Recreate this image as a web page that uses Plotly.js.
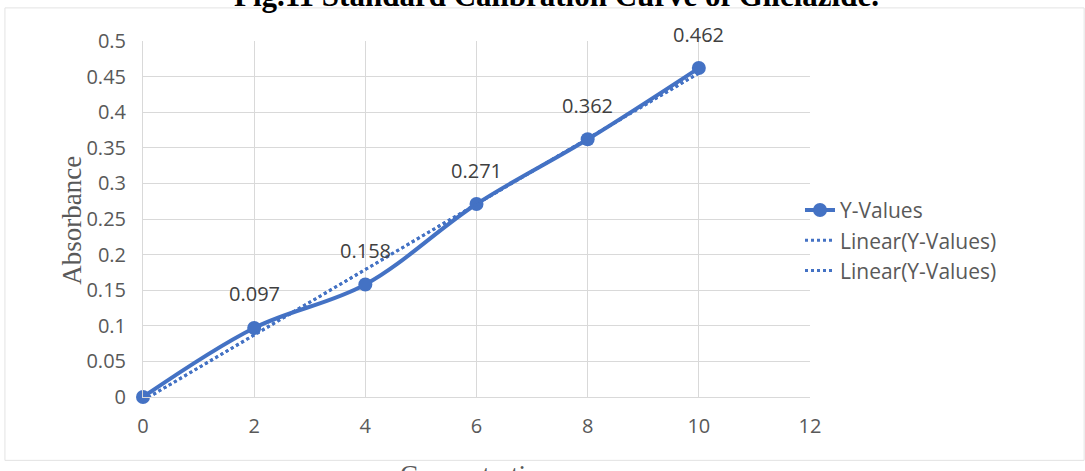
<!DOCTYPE html>
<html>
<head>
<meta charset="utf-8">
<script src="https://cdn.plot.ly/plotly-3.0.1.min.js"></script>
<style>
  html, body { margin: 0; padding: 0; background: #ffffff; }
  #chart { width: 1085px; height: 471px; }
</style>
</head>
<body>
<div id="chart"></div>
<script>
// Concentration (x) against absorbance (y) for the calibration standards
const concentration = [0, 2, 4, 6, 8, 10];
const absorbance = [0, 0.097, 0.158, 0.271, 0.362, 0.462];

const xTicks = [0, 2, 4, 6, 8, 10, 12];
const yTicks = [0, 0.05, 0.1, 0.15, 0.2, 0.25, 0.3, 0.35, 0.4, 0.45, 0.5];
const yTickText = ['0', '0.05', '0.1', '0.15', '0.2', '0.25', '0.3', '0.35', '0.4', '0.45', '0.5'];

const seriesName = 'Y-Values';
const trendName = 'Linear(Y-Values)';
const chartTitle = 'Fig.11 Standard Calibration Curve of Gliclazide.';
const xTitle = 'Concentration';
const yTitle = 'Absorbance';

// least-squares line through the standards
function linearFit(xs, ys) {
  const n = xs.length;
  const mx = xs.reduce((a, b) => a + b, 0) / n;
  const my = ys.reduce((a, b) => a + b, 0) / n;
  let sxy = 0, sxx = 0;
  for (let i = 0; i < n; i++) {
    sxy += (xs[i] - mx) * (ys[i] - my);
    sxx += (xs[i] - mx) * (xs[i] - mx);
  }
  const slope = sxy / sxx;
  return { slope: slope, intercept: my - slope * mx };
}
const fit = linearFit(concentration, absorbance);
const fitX = [Math.min(...concentration), Math.max(...concentration)];
const fitY = fitX.map(x => fit.intercept + fit.slope * x);

const blue = '#4472C4';
const grey = '#595959';
const grid = '#d9d9d9';
const sans = 'Open Sans, sans-serif';
const serif = 'Liberation Serif, Times New Roman, serif';

const traces = [
  {
    x: concentration, y: absorbance, name: seriesName,
    type: 'scatter', mode: 'lines+markers',
    line: { color: blue, width: 4, shape: 'spline', smoothing: 1 },
    marker: { color: blue, size: 14 },
    legendgroup: 'a', cliponaxis: false
  },
  {
    x: fitX, y: fitY, name: trendName,
    type: 'scatter', mode: 'lines',
    line: { color: blue, width: 3, dash: 'dot' },
    legendgroup: 'b', cliponaxis: false
  },
  {
    x: fitX, y: fitY, name: trendName,
    type: 'scatter', mode: 'lines',
    line: { color: blue, width: 3, dash: 'dot' },
    legendgroup: 'c', cliponaxis: false
  }
];

// value labels above every non-zero point
const annotations = [];
concentration.forEach((x, i) => {
  if (absorbance[i] === 0) return;
  annotations.push({
    x: x, y: absorbance[i], xref: 'x', yref: 'y',
    text: String(absorbance[i]), showarrow: false,
    yshift: 34, font: { family: sans, size: 20, color: '#404040' }
  });
});

annotations.push(
  {
    xref: 'paper', yref: 'paper', x: -0.107, y: 0.497,
    text: yTitle, textangle: -90, showarrow: false,
    xanchor: 'center', yanchor: 'middle',
    font: { family: serif, size: 27, color: grey }
  },
  {
    xref: 'paper', yref: 'paper', x: 0.5, y: -0.17,
    text: xTitle, showarrow: false,
    xanchor: 'center', yanchor: 'top',
    font: { family: serif, size: 27, color: grey }
  },
  {
    xref: 'paper', yref: 'paper', x: 0.62, y: 1.073,
    text: '<b>' + chartTitle + '</b>', showarrow: false,
    xanchor: 'center', yanchor: 'bottom',
    font: { family: serif, size: 31, color: '#000000' }
  }
);

const layout = {
  width: 1085, height: 471,
  margin: { l: 143, r: 275, t: 41, b: 74, pad: 0 },
  paper_bgcolor: '#ffffff', plot_bgcolor: '#ffffff',
  showlegend: true,
  xaxis: {
    range: [0, 12], tickvals: xTicks, ticktext: xTicks.map(String),
    showgrid: true, gridcolor: grid, gridwidth: 1,
    zeroline: false, showline: true, linecolor: grid, linewidth: 1,
    ticks: '', ticklabelstandoff: 11,
    tickfont: { family: sans, size: 20, color: grey },
    fixedrange: true
  },
  yaxis: {
    range: [0, 0.5], tickvals: yTicks, ticktext: yTickText,
    showgrid: true, gridcolor: grid, gridwidth: 1,
    zeroline: false, showline: true, linecolor: grid, linewidth: 1,
    ticks: '', ticklabelstandoff: 12,
    tickfont: { family: sans, size: 20, color: grey },
    fixedrange: true
  },
  legend: {
    x: 0.985, y: 0.44, xanchor: 'left', yanchor: 'middle',
    bgcolor: 'rgba(0,0,0,0)', borderwidth: 0,
    traceorder: 'grouped', tracegroupgap: 0, itemwidth: 30,
    font: { family: sans, size: 21, color: grey }
  },
  annotations: annotations,
  shapes: [
    {
      type: 'rect', xref: 'paper', yref: 'paper',
      x0: -0.207, x1: 1.411, y0: -0.178, y1: 1.093,
      line: { color: '#e3e3e3', width: 1 }, fillcolor: 'rgba(0,0,0,0)', layer: 'below'
    }
  ]
};

Plotly.newPlot('chart', traces, layout, { displayModeBar: false, staticPlot: true });
</script>
</body>
</html>
